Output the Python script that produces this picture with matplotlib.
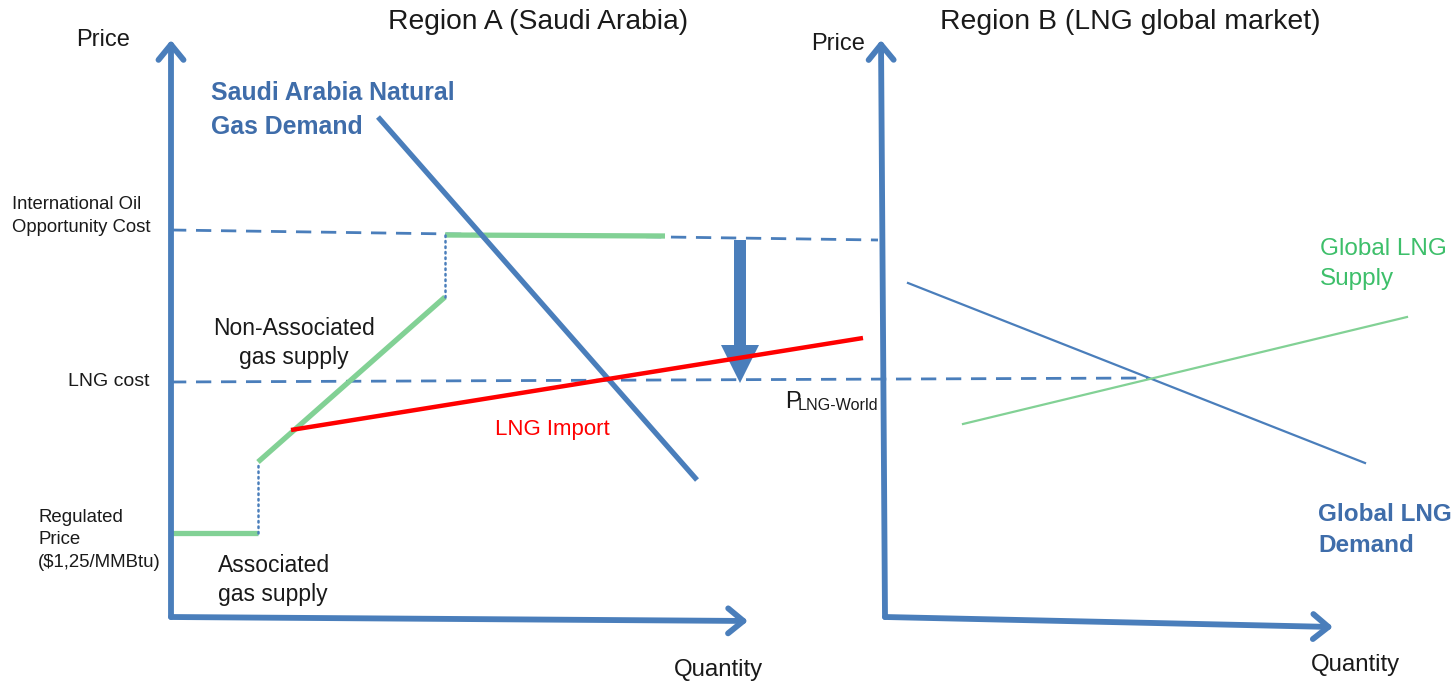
import matplotlib
matplotlib.use("Agg")
import matplotlib.pyplot as plt
from matplotlib.patches import FancyArrow

plt.rcParams['font.family'] = ['Liberation Sans', 'DejaVu Sans']

W, H = 1455, 684

BLUE = '#4A7EBB'
BLUE_TXT = '#3F6DAA'
GREEN = '#82D195'
GREEN_TXT = '#3DBF6A'
RED = '#FF0000'
TXT = '#1A1A1A'

# ---- diagram geometry (canvas units, y grows downward) ----
# Region A axes
a_origin = (171, 617)
a_y_tip = (171, 40)
a_x_tip = (748, 621)
# Region B axes
b_origin = (885, 617)
b_y_tip = (881, 40)
b_x_tip = (1333, 627)

# Saudi supply curve pieces
assoc_x, assoc_y = [171, 258], [533, 533]
step1_x, step1_y = [258, 258], [533, 462]
nonassoc_x, nonassoc_y = [258, 445], [462, 297]
step2_x, step2_y = [445, 445], [297, 235]
oil_cap_x, oil_cap_y = [445, 665], [235, 236]

# Saudi demand
sa_demand_x, sa_demand_y = [378, 697], [117, 480]
# LNG import supply
lng_import_x, lng_import_y = [291, 863], [430, 338]

# Price reference levels (dashed)
oil_cost_x, oil_cost_y = [171, 878], [230, 240]
lng_cost_x, lng_cost_y = [171, 1148], [382, 378]

# Price drop arrow
drop_x, drop_top, drop_bottom = 740, 240, 383

# Region B curves
glob_demand_x, glob_demand_y = [908, 1365], [283, 463]
glob_supply_x, glob_supply_y = [963, 1407], [424, 317]

fig = plt.figure(figsize=(W / 100, H / 100), dpi=100)
ax = fig.add_axes([0, 0, 1, 1])
ax.set_xlim(0, W)
ax.set_ylim(H, 0)
ax.axis('off')

axis_arrow = dict(arrowstyle='->,head_length=1.1,head_width=0.9', lw=4.2,
                  color=BLUE, shrinkA=0, shrinkB=0, capstyle='round',
                  joinstyle='round')
for origin, tip in [(a_origin, a_y_tip), (a_origin, a_x_tip),
                    (b_origin, b_y_tip), (b_origin, b_x_tip)]:
    ax.annotate('', xy=tip, xytext=origin, arrowprops=axis_arrow)

# dashed price levels
ax.plot(oil_cost_x, oil_cost_y, color=BLUE, lw=2, dashes=(5.5, 3.5))
ax.plot(lng_cost_x, lng_cost_y, color=BLUE, lw=2, dashes=(5.5, 3.5))

# supply steps
for xs, ys in [(assoc_x, assoc_y), (nonassoc_x, nonassoc_y), (oil_cap_x, oil_cap_y)]:
    ax.plot(xs, ys, color=GREEN, lw=3.8, solid_capstyle='butt')
for xs, ys in [(step1_x, step1_y), (step2_x, step2_y)]:
    ax.plot(xs, ys, color=BLUE, lw=1.8, ls=(0, (0.6, 1.6)), dash_capstyle='round')

# demand and LNG import
ax.plot(sa_demand_x, sa_demand_y, color=BLUE, lw=3.8, solid_capstyle='butt')
ax.plot(lng_import_x, lng_import_y, color=RED, lw=3.2, solid_capstyle='butt')

# price drop arrow
ax.add_patch(FancyArrow(drop_x, drop_top, 0, drop_bottom - drop_top, width=12,
                        head_width=38, head_length=38, length_includes_head=True,
                        color=BLUE, lw=0))

# global market
ax.plot(glob_demand_x, glob_demand_y, color=BLUE, lw=1.6)
ax.plot(glob_supply_x, glob_supply_y, color=GREEN, lw=1.6)

# ---- text ----
ax.text(538, 22, 'Region A (Saudi Arabia)', fontsize=20.3, color=TXT, ha='center', va='center')
ax.text(1130, 22, 'Region B (LNG global market)', fontsize=20.4, color=TXT, ha='center', va='center')
ax.text(103, 40, 'Price', fontsize=17, color=TXT, ha='center', va='center')
ax.text(838, 44, 'Price', fontsize=17, color=TXT, ha='center', va='center')
ax.text(718, 670, 'Quantity', fontsize=17.3, color=TXT, ha='center', va='center')
ax.text(1355, 665, 'Quantity', fontsize=17.3, color=TXT, ha='center', va='center')

ax.text(211, 110, 'Saudi Arabia Natural\nGas Demand', fontsize=17.9, fontweight='bold',
        color=BLUE_TXT, ha='left', va='center', linespacing=1.5)
ax.text(12, 216, 'International Oil\nOpportunity Cost', fontsize=13.3, color=TXT,
        ha='left', va='center', linespacing=1.45)
ax.text(68, 382, 'LNG cost', fontsize=14, color=TXT, ha='left', va='center')
ax.text(38, 540, 'Regulated\nPrice\n($1,25/MMBtu)', fontsize=13.4, color=TXT,
        ha='left', va='center', linespacing=1.45)
ax.text(294, 343, 'Non-Associated\ngas supply', fontsize=16.5, color=TXT,
        ha='center', va='center', linespacing=1.3)
ax.text(218, 580, 'Associated\ngas supply', fontsize=16.5, color=TXT,
        ha='left', va='center', linespacing=1.3)
ax.text(552, 430, 'LNG Import', fontsize=16, color=RED, ha='center', va='center')
ax.text(785, 402, 'P', fontsize=17, color=TXT, ha='left', va='center')
ax.text(798, 405, 'LNG-World', fontsize=11.6, color=TXT, ha='left', va='center')
ax.text(1320, 264, 'Global LNG\nSupply', fontsize=17.5, color=GREEN_TXT,
        ha='left', va='center', linespacing=1.5)
ax.text(1318, 530, 'Global LNG\nDemand', fontsize=17.5, fontweight='bold', color=BLUE_TXT,
        ha='left', va='center', linespacing=1.45)

fig.savefig('out.png', dpi=100)
